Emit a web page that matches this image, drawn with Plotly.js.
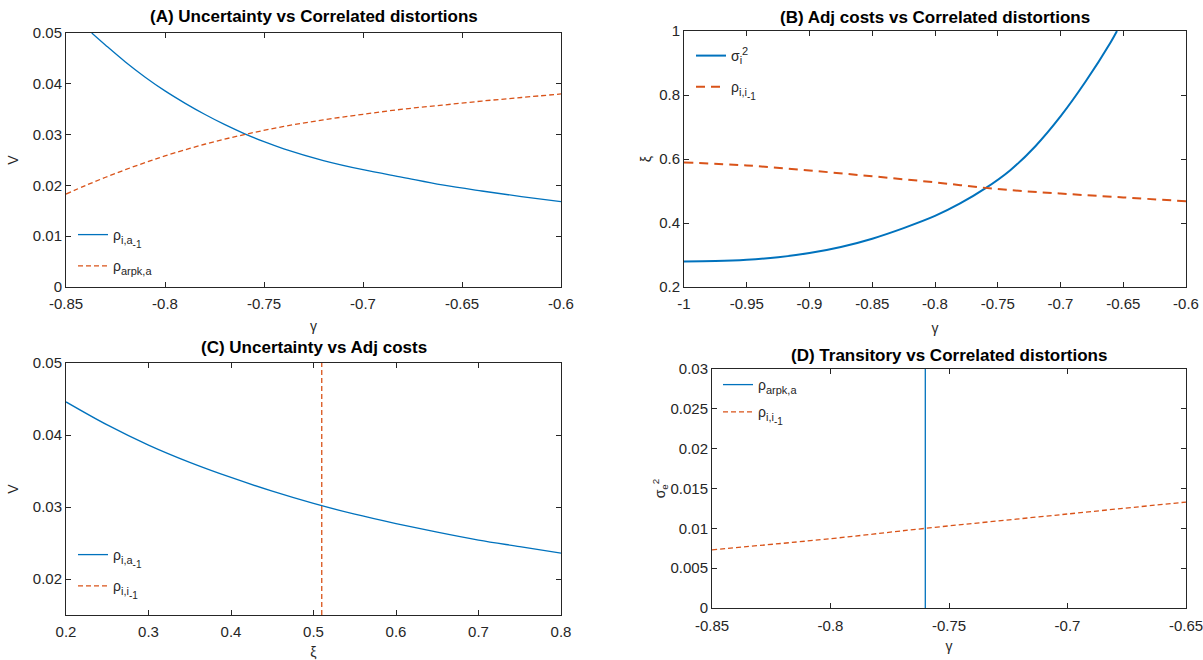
<!DOCTYPE html>
<html><head><meta charset="utf-8">
<script src="https://cdn.plot.ly/plotly-3.0.1.min.js"></script>
<style>html,body{margin:0;padding:0;background:#fff}</style>
</head><body><div id="chart" style="width:1203px;height:660px"></div>
<script>
// Panel A: Uncertainty vs Correlated distortions
const gammaA_blue = [-0.837,-0.83,-0.82,-0.81,-0.80,-0.79,-0.78,-0.77,-0.76,-0.75,-0.74,-0.72,-0.70,-0.68,-0.66,-0.64,-0.62,-0.60];
const vA_blue     = [0.0500,0.0476,0.0443,0.0413,0.0386,0.0362,0.0340,0.0320,0.0302,0.0286,0.0272,0.0249,0.0231,0.0216,0.0201,0.0189,0.0178,0.0168];
const gammaA_red  = [-0.85,-0.84,-0.83,-0.82,-0.81,-0.80,-0.78,-0.76,-0.74,-0.72,-0.70,-0.68,-0.66,-0.64,-0.62,-0.60];
const vA_red      = [0.0183,0.0200,0.0216,0.0231,0.0245,0.0258,0.0281,0.0300,0.0316,0.0329,0.0340,0.0350,0.0358,0.0366,0.0373,0.0380];
// Panel B: Adj costs vs Correlated distortions
const gammaB_blue = [-1,-0.975,-0.95,-0.925,-0.9,-0.875,-0.85,-0.825,-0.8,-0.78,-0.76,-0.74,-0.72,-0.70,-0.68,-0.66,-0.655];
const xiB_blue    = [0.280,0.281,0.285,0.293,0.306,0.325,0.351,0.384,0.422,0.461,0.508,0.565,0.640,0.733,0.842,0.965,1.0];
const gammaB_red  = [-1,-0.95,-0.9,-0.85,-0.8,-0.75,-0.7,-0.65,-0.6];
const xiB_red     = [0.589,0.580,0.564,0.546,0.527,0.506,0.492,0.480,0.468];
// Panel C: Uncertainty vs Adj costs
const xiC_blue    = [0.2,0.25,0.3,0.35,0.4,0.45,0.5,0.55,0.6,0.65,0.7,0.75,0.8];
const vC_blue     = [0.0446,0.0414,0.0386,0.0362,0.0341,0.0322,0.0305,0.0290,0.0277,0.0265,0.0254,0.0245,0.0236];
const xiC_red     = [0.51,0.51];
const vC_red      = [0.015,0.05];
// Panel D: Transitory vs Correlated distortions
const gammaD_blue = [-0.76,-0.76];
const sD_blue     = [0,0.03];
const gammaD_red  = [-0.85,-0.8,-0.76,-0.7,-0.65];
const sD_red      = [0.0073,0.0087,0.0100,0.0118,0.0133];
// Tick labels
const ticksA_x = [-0.85,-0.8,-0.75,-0.7,-0.65,-0.6];
const labelsA_x = ['-0.85','-0.8','-0.75','-0.7','-0.65','-0.6'];
const ticksA_y = [0,0.01,0.02,0.03,0.04,0.05];
const labelsA_y = ['0','0.01','0.02','0.03','0.04','0.05'];
const ticksB_x = [-1,-0.95,-0.9,-0.85,-0.8,-0.75,-0.7,-0.65,-0.6];
const labelsB_x = ['-1','-0.95','-0.9','-0.85','-0.8','-0.75','-0.7','-0.65','-0.6'];
const ticksB_y = [0.2,0.4,0.6,0.8,1];
const labelsB_y = ['0.2','0.4','0.6','0.8','1'];
const ticksC_x = [0.2,0.3,0.4,0.5,0.6,0.7,0.8];
const labelsC_x = ['0.2','0.3','0.4','0.5','0.6','0.7','0.8'];
const ticksC_y = [0.02,0.03,0.04,0.05];
const labelsC_y = ['0.02','0.03','0.04','0.05'];
const ticksD_x = [-0.85,-0.8,-0.75,-0.7,-0.65];
const labelsD_x = ['-0.85','-0.8','-0.75','-0.7','-0.65'];
const ticksD_y = [0,0.005,0.01,0.015,0.02,0.025,0.03];
const labelsD_y = ['0','0.005','0.01','0.015','0.02','0.025','0.03'];

const BLUE = '#0072BD', RED = '#D95319', INK = '#262626';
const FONT = 'Liberation Sans, Arial, sans-serif';
const W = 1203, H = 660;
const px = v => v / W, py = v => 1 - v / H;

// legend labels with two-level subscripts (sizes kept readable)
function sub2(base, s1, s2) {
  return base + '<span style="font-size:18px"><sub><span style="font-size:11px">' + s1 + '</span>' +
         '<span style="font-size:20px"><sub><span style="font-size:10px">' + s2 + '</span></sub></span></sub></span>';
}
function sub1(base, s1) {
  return base + '<span style="font-size:18px"><sub><span style="font-size:11px">' + s1 + '</span></sub></span>';
}
const L_ia = sub2('ρ', 'i,a', '-1');
const L_arpk = sub1('ρ', 'arpk,a');
const L_ii = sub2('ρ', 'i,i', '-1');
const L_sig = 'σ<sub><span style="font-size:11px">i</span></sub><sup><span style="font-size:11px">2</span></sup>';

const traces = [
  {x: gammaA_blue, y: vA_blue, xaxis:'x', yaxis:'y', mode:'lines', line:{color:BLUE,width:1.3,shape:'spline'}, name:L_ia, legend:'legend', legendgroup:'a1'},
  {x: gammaA_red, y: vA_red, xaxis:'x', yaxis:'y', mode:'lines', line:{color:RED,width:1.3,dash:'5px,3px',shape:'spline'}, name:L_arpk, legend:'legend', legendgroup:'a2'},
  {x: gammaB_blue, y: xiB_blue, xaxis:'x2', yaxis:'y2', mode:'lines', line:{color:BLUE,width:2,shape:'spline'}, name:L_sig, legend:'legend2', legendgroup:'b1'},
  {x: gammaB_red, y: xiB_red, xaxis:'x2', yaxis:'y2', mode:'lines', line:{color:RED,width:2,dash:'9px,6px',shape:'spline'}, name:L_ii, legend:'legend2', legendgroup:'b2'},
  {x: xiC_blue, y: vC_blue, xaxis:'x3', yaxis:'y3', mode:'lines', line:{color:BLUE,width:1.3,shape:'spline'}, name:L_ia, legend:'legend3', legendgroup:'c1'},
  {x: xiC_red, y: vC_red, xaxis:'x3', yaxis:'y3', mode:'lines', line:{color:RED,width:1.3,dash:'5px,3px'}, name:L_ii, legend:'legend3', legendgroup:'c2'},
  {x: gammaD_blue, y: sD_blue, xaxis:'x4', yaxis:'y4', mode:'lines', line:{color:BLUE,width:1.3}, name:L_arpk, legend:'legend4', legendgroup:'d1'},
  {x: gammaD_red, y: sD_red, xaxis:'x4', yaxis:'y4', mode:'lines', line:{color:RED,width:1.3,dash:'5px,3px',shape:'spline'}, name:L_ii, legend:'legend4', legendgroup:'d2'}
];

function ax(extra) {
  return Object.assign({
    showline:true, mirror:'ticks', ticks:'inside', ticklen:5, tickcolor:INK, tickwidth:1,
    linecolor:INK, linewidth:1, showgrid:false, zeroline:false, ticklabeloverflow:'allow',
    tickfont:{size:15, color:INK, family:FONT}, tickmode:'array'
  }, extra);
}
function leg(x, y, gap) {
  return {x:px(x), y:py(y), xanchor:'left', yanchor:'top', bgcolor:'rgba(0,0,0,0)', borderwidth:0,
          font:{size:14, color:INK, family:FONT}, tracegroupgap:gap, traceorder:'grouped'};
}
const titleFont = {size:17, color:'#000', family:FONT, weight:'bold'};
const axTitleFont = {size:14, color:INK, family:FONT};

const layout = {
  width:W, height:H, margin:{l:0,r:0,t:0,b:0}, paper_bgcolor:'#fff', plot_bgcolor:'#fff',
  font:{family:FONT, color:INK},
  showlegend:true,
  xaxis: ax({domain:[px(66),px(561)], range:[-0.85,-0.6], tickvals:ticksA_x, ticktext:labelsA_x, anchor:'y', ticklabelstandoff:3, title:{text:'γ', font:axTitleFont, standoff:10}}),
  yaxis: ax({domain:[py(287),py(33)], range:[0,0.05], tickvals:ticksA_y, ticktext:labelsA_y, anchor:'x', title:{text:'V', font:axTitleFont, standoff:10}}),
  xaxis2: ax({domain:[px(684),px(1186)], range:[-1,-0.6], tickvals:ticksB_x, ticktext:labelsB_x, anchor:'y2', ticklabelstandoff:3, title:{text:'γ', font:axTitleFont, standoff:12}}),
  yaxis2: ax({domain:[py(287),py(31)], range:[0.2,1], tickvals:ticksB_y, ticktext:labelsB_y, anchor:'x2', title:{text:'ξ', font:axTitleFont, standoff:4}}),
  xaxis3: ax({domain:[px(66),px(561)], range:[0.2,0.8], tickvals:ticksC_x, ticktext:labelsC_x, anchor:'y3', ticklabelstandoff:3, title:{text:'ξ', font:axTitleFont, standoff:9}}),
  yaxis3: ax({domain:[py(615),py(363)], range:[0.015,0.05], tickvals:ticksC_y, ticktext:labelsC_y, anchor:'x3', title:{text:'V', font:axTitleFont, standoff:10}}),
  xaxis4: ax({domain:[px(712),px(1186)], range:[-0.85,-0.65], tickvals:ticksD_x, ticktext:labelsD_x, anchor:'y4', ticklabelstandoff:4, title:{text:'γ', font:axTitleFont, standoff:8}}),
  yaxis4: ax({domain:[py(608),py(369)], range:[0,0.03], tickvals:ticksD_y, ticktext:labelsD_y, anchor:'x4', title:{text:'σ<sub>e</sub><sup>2</sup>', font:axTitleFont, standoff:1}}),
  legend: leg(73, 219, 10),
  legend2: leg(691, 40, 10),
  legend3: leg(73, 539, 10),
  legend4: leg(718, 369, 6),
  annotations: [
    {text:'(A) Uncertainty vs Correlated distortions', x:px(313.5), y:py(16), xref:'paper', yref:'paper', showarrow:false, font:titleFont, xanchor:'center', yanchor:'middle'},
    {text:'(B) Adj costs vs Correlated distortions', x:px(935), y:py(17), xref:'paper', yref:'paper', showarrow:false, font:titleFont, xanchor:'center', yanchor:'middle'},
    {text:'(C) Uncertainty vs Adj costs', x:px(313.5), y:py(347), xref:'paper', yref:'paper', showarrow:false, font:titleFont, xanchor:'center', yanchor:'middle'},
    {text:'(D) Transitory vs Correlated distortions', x:px(949), y:py(355), xref:'paper', yref:'paper', showarrow:false, font:titleFont, xanchor:'center', yanchor:'middle'}
  ]
};

Plotly.newPlot('chart', traces, layout, {displayModeBar:false, staticPlot:true});
</script>
</body></html>
